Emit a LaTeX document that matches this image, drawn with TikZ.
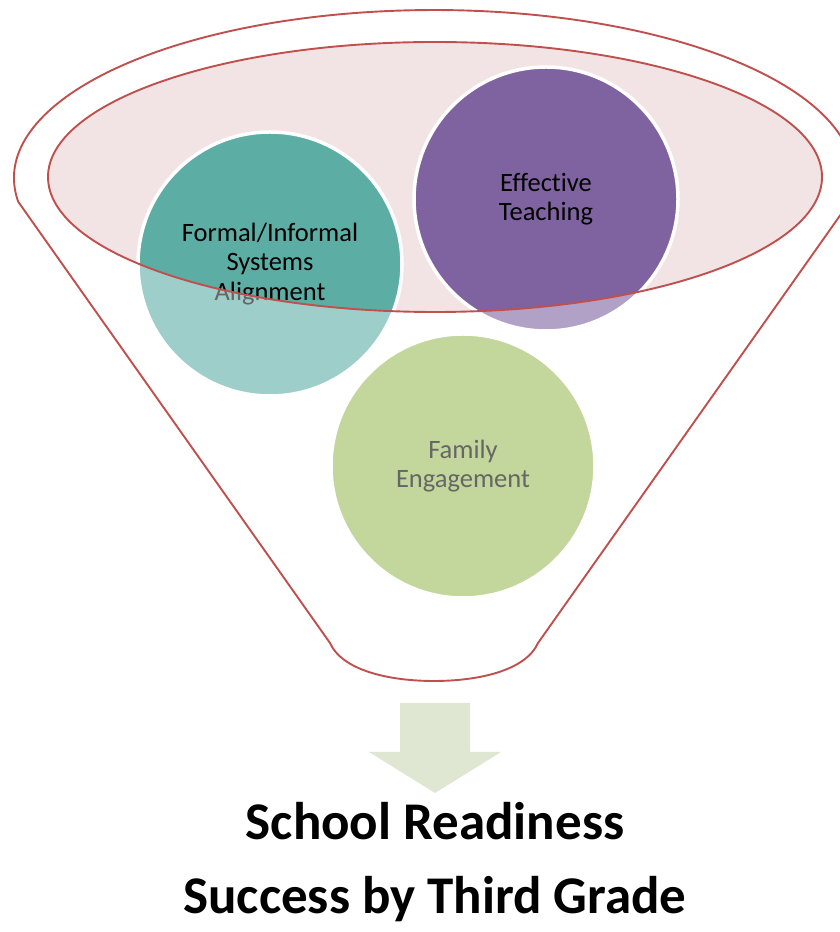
\documentclass[tikz,border=0pt]{standalone}
\usepackage{fontspec}
\setmainfont{Carlito}[Ligatures=NoCommon]
\definecolor{funnelred}{RGB}{192,80,77}
\definecolor{rimfill}{RGB}{242,228,228}
\definecolor{tealc}{RGB}{92,174,165}
\definecolor{purplec}{RGB}{127,99,161}
\definecolor{greenc}{RGB}{155,187,89}
\definecolor{arrowfill}{RGB}{223,231,211}
\begin{document}
\begin{tikzpicture}[x=1pt,y=1pt,
  funnelline/.style={draw=funnelred,line width=1.9},
  bubble/.style={circle,draw=white,line width=3.5,minimum size=264,inner sep=0,
    align=center,text=black,font=\fontsize{26.5}{29.3}\selectfont},
  caption/.style={anchor=base,font=\bfseries\fontsize{53}{60}\selectfont},
]
\useasboundingbox (0,0) rectangle (840,932);

% mouth of the funnel
\fill[rimfill] (435,755) ellipse [x radius=387,y radius=135];

% the three ingredients
\node[bubble,fill=tealc]   (align)  at (270,668) {Formal/Informal\\Systems\\Alignment};
\node[bubble,fill=purplec] (teach)  at (546,733) {Effective\\Teaching};
\node[bubble,fill=greenc]  (family) at (463,466) {Family\\Engagement};

% everything below the mouth is seen through the funnel wall
\fill[white,opacity=0.4,even odd rule]
  (0,0) rectangle (840,932)
  (435,755) ellipse [x radius=387,y radius=135];

% funnel outline
\draw[funnelline] (435,755) ellipse [x radius=387,y radius=135];
\draw[funnelline,line join=round]
  (18.2,730.3) arc[start angle=188.1,end angle=-8.1,x radius=420,y radius=168]
  -- (538,289)
  .. controls (526,262) and (480,251) .. (434,251)
  .. controls (388,251) and (342,262) .. (330,289)
  -- cycle;

% outflow arrow
\fill[arrowfill] (400,229) -- (470,229) -- (470,180) -- (501,180)
  -- (435,139) -- (369,180) -- (400,180) -- cycle;

% outcome
\node[caption] (ready)   at (435,92) {School Readiness};
\node[caption] (success) at (435,18) {Success by Third Grade};
\end{tikzpicture}
\end{document}
